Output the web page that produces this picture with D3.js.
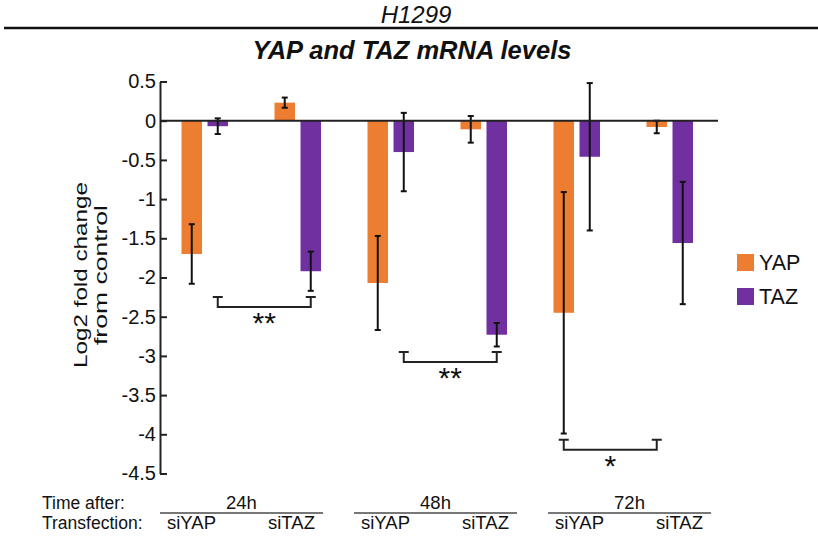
<!DOCTYPE html>
<html>
<head>
<meta charset="utf-8">
<script src="https://cdn.jsdelivr.net/npm/d3@7"></script>
<style>
  body { margin: 0; background: #fff; }
  svg text { font-family: Arial, "Liberation Sans", sans-serif; fill: #111; }
</style>
</head>
<body>
<div id="plot"></div>
<script>
// values (log2 fold change, mean and error)
const times = ["24h", "48h", "72h"];
const transfections = ["siYAP", "siTAZ"];
const genes = ["YAP", "TAZ"];
const yapMean = [-1.70, 0.23, -2.07, -0.11, -2.45, -0.08];
const yapErr  = [0.38, 0.065, 0.60, 0.17, 1.54, 0.08];
const tazMean = [-0.07, -1.92, -0.40, -2.73, -0.46, -1.56];
const tazErr  = [0.10, 0.25, 0.50, 0.15, 0.94, 0.78];
const yTicks = [0.5, 0, -0.5, -1, -1.5, -2, -2.5, -3, -3.5, -4, -4.5];
// significance brackets, one per time point
const sigGene = ["TAZ", "TAZ", "YAP"];
const sigLevel = [-2.25, -2.95, -4.07];
const sigLabel = ["**", "**", "*"];

const w = 818;
const h = 537;
const colors = {YAP: "#ed7d31", TAZ: "#7030a0"};

const svg = d3.select("div#plot")
    .append("svg")
    .attr("width", w)
    .attr("height", h);

// build rows from the arrays
const cats = [];
const rows = [];
times.forEach((t, i) => {
  transfections.forEach((tr, j) => {
    const k = i * 2 + j;
    const cat = t + "|" + tr;
    cats.push(cat);
    rows.push({cat: cat, gene: "YAP", mean: yapMean[k], err: yapErr[k]});
    rows.push({cat: cat, gene: "TAZ", mean: tazMean[k], err: tazErr[k]});
  });
});

const xScale = d3.scaleBand()
    .domain(cats)
    .range([160, 718]);

const bw = xScale.bandwidth();
const xSub = d3.scaleBand()
    .domain(genes)
    .range([bw / 2 - 25, bw / 2 + 21.5])
    .paddingInner(0.212);

const yScale = d3.scaleLinear()
    .domain([0.5, -4.5])
    .range([81.5, 473.5]);

// header
svg.append("text")
    .attr("x", 416)
    .attr("y", 23)
    .attr("text-anchor", "middle")
    .style("font-size", "24px")
    .style("font-style", "italic")
    .text("H1299");

svg.append("line")
    .attr("x1", 4).attr("x2", w)
    .attr("y1", 28).attr("y2", 28)
    .attr("stroke", "#111")
    .attr("stroke-width", 2.5);

svg.append("text")
    .attr("x", 412)
    .attr("y", 59)
    .attr("text-anchor", "middle")
    .style("font-size", "25.5px")
    .style("font-style", "italic")
    .style("font-weight", "bold")
    .text("YAP and TAZ mRNA levels");

// bars
svg.append("g")
  .selectAll("rect")
  .data(rows)
  .enter().append("rect")
    .attr("x", d => xScale(d.cat) + xSub(d.gene))
    .attr("y", d => yScale(Math.max(0, d.mean)))
    .attr("width", xSub.bandwidth())
    .attr("height", d => Math.abs(yScale(d.mean) - yScale(0)))
    .attr("fill", d => colors[d.gene]);

// error bars
const eb = svg.append("g")
    .attr("stroke", "#111")
    .attr("stroke-width", 2)
  .selectAll("g")
  .data(rows)
  .enter().append("g")
    .attr("transform", d => `translate(${xScale(d.cat) + xSub(d.gene) + xSub.bandwidth() / 2},0)`);

eb.append("line")
    .attr("y1", d => yScale(d.mean + d.err))
    .attr("y2", d => yScale(d.mean - d.err));
eb.append("line")
    .attr("x1", -3).attr("x2", 3)
    .attr("y1", d => yScale(d.mean + d.err))
    .attr("y2", d => yScale(d.mean + d.err));
eb.append("line")
    .attr("x1", -3).attr("x2", 3)
    .attr("y1", d => yScale(d.mean - d.err))
    .attr("y2", d => yScale(d.mean - d.err));

// zero line
svg.append("line")
    .attr("x1", 160).attr("x2", 718)
    .attr("y1", yScale(0)).attr("y2", yScale(0))
    .attr("stroke", "#222")
    .attr("stroke-width", 2);

// y axis
const yAxis = d3.axisLeft(yScale)
    .tickValues(yTicks)
    .tickSize(-7)
    .tickSizeOuter(0)
    .tickPadding(4)
    .tickFormat(d => String(d));

svg.append("g")
    .attr("class", "yAxis")
    .attr("transform", "translate(160,0)")
    .call(yAxis)
    .call(g => g.selectAll("path, line").attr("stroke", "#222").attr("stroke-width", 2))
    .call(g => g.selectAll("text")
        .attr("fill", "#111")
        .style("font-size", "20px")
        .style("font-family", "Arial, 'Liberation Sans', sans-serif"));

const yMid = 275;
svg.append("text")
    .attr("transform", `translate(87,${yMid}) rotate(-90)`)
    .attr("text-anchor", "middle")
    .attr("textLength", 186)
    .attr("lengthAdjust", "spacingAndGlyphs")
    .style("font-size", "19px")
    .text("Log2 fold change");
svg.append("text")
    .attr("transform", `translate(107,${yMid}) rotate(-90)`)
    .attr("text-anchor", "middle")
    .attr("textLength", 140)
    .attr("lengthAdjust", "spacingAndGlyphs")
    .style("font-size", "19px")
    .text("from control");

// significance brackets
const drop = 10;
const br = svg.append("g").selectAll("g")
    .data(times)
    .enter().append("g");

br.append("path")
    .attr("fill", "none")
    .attr("stroke", "#222")
    .attr("stroke-width", 2)
    .attr("d", (t, i) => {
      const x1 = xScale(t + "|siYAP") + xSub(sigGene[i]) + xSub.bandwidth() / 2;
      const x2 = xScale(t + "|siTAZ") + xSub(sigGene[i]) + xSub.bandwidth() / 2;
      const y0 = yScale(sigLevel[i]);
      return `M${x1 - 5},${y0}H${x1 + 5}M${x1},${y0}V${y0 + drop}H${x2}V${y0}M${x2 - 5},${y0}H${x2 + 5}`;
    });

br.append("text")
    .attr("x", (t, i) => {
      const x1 = xScale(t + "|siYAP") + xSub(sigGene[i]) + xSub.bandwidth() / 2;
      const x2 = xScale(t + "|siTAZ") + xSub(sigGene[i]) + xSub.bandwidth() / 2;
      return (x1 + x2) / 2;
    })
    .attr("y", (t, i) => yScale(sigLevel[i]) + drop + 26)
    .attr("text-anchor", "middle")
    .style("font-size", "30px")
    .text((t, i) => sigLabel[i]);

// legend
const legend = svg.append("g")
    .attr("transform", "translate(737,254)")
  .selectAll("g")
  .data(genes)
  .enter().append("g")
    .attr("transform", (d, i) => `translate(0,${i * 34})`);

legend.append("rect")
    .attr("width", 17)
    .attr("height", 17)
    .attr("fill", d => colors[d]);

legend.append("text")
    .attr("x", 22)
    .attr("y", 16)
    .style("font-size", "21.5px")
    .text(d => d);

// bottom annotation
const xTime = d3.scaleBand()
    .domain(times)
    .range([160, 711])
    .paddingInner(0.16);

const xTr = d3.scalePoint()
    .domain(transfections)
    .range([0, xTime.bandwidth()])
    .padding(0.315);

svg.append("text")
    .attr("x", 42).attr("y", 509)
    .style("font-size", "17.5px")
    .text("Time after:");
svg.append("text")
    .attr("x", 42).attr("y", 529)
    .style("font-size", "17.5px")
    .text("Transfection:");

const grp = svg.append("g").selectAll("g")
    .data(times)
    .enter().append("g")
    .attr("transform", d => `translate(${xTime(d)},0)`);

grp.append("line")
    .attr("x1", 0).attr("x2", xTime.bandwidth())
    .attr("y1", 513).attr("y2", 513)
    .attr("stroke", "#777")
    .attr("stroke-width", 2);

grp.append("text")
    .attr("x", xTime.bandwidth() / 2)
    .attr("y", 509)
    .attr("text-anchor", "middle")
    .style("font-size", "18.5px")
    .text(d => d);

grp.selectAll(".tr")
    .data(transfections)
    .enter().append("text")
    .attr("class", "tr")
    .attr("x", d => xTr(d))
    .attr("y", 529)
    .attr("text-anchor", "middle")
    .style("font-size", "18.5px")
    .text(d => d);
</script>
</body>
</html>
